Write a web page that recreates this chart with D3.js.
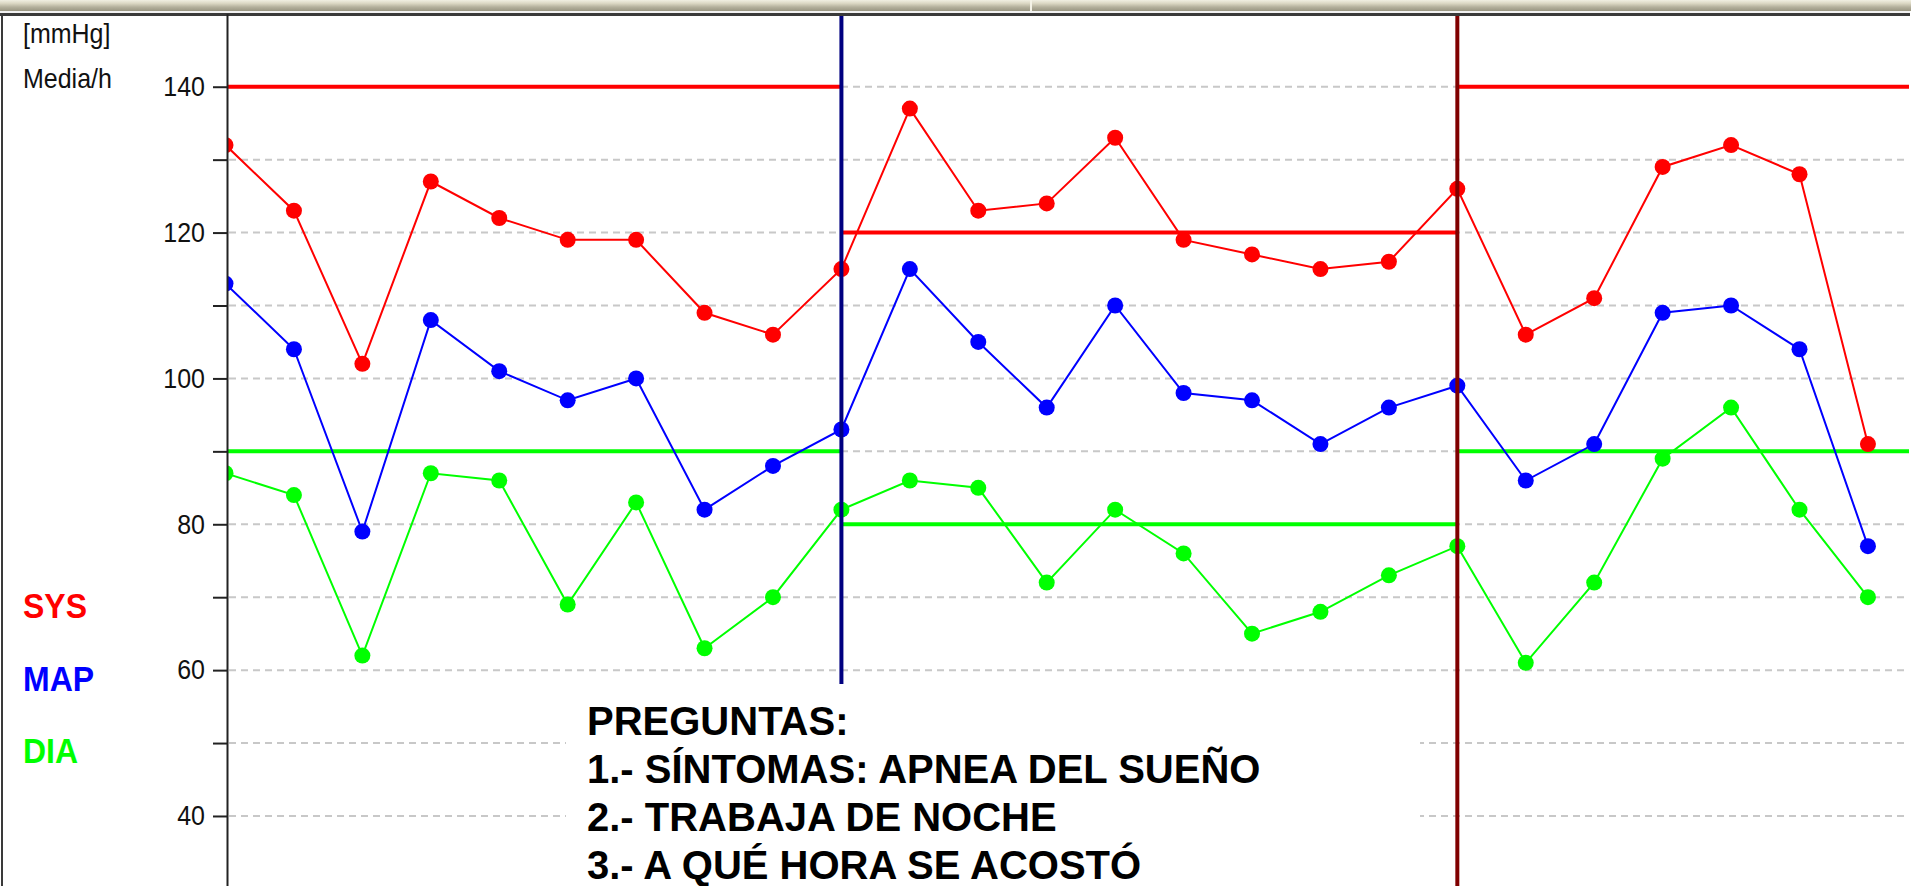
<!DOCTYPE html>
<html>
<head>
<meta charset="utf-8">
<script src="https://cdnjs.cloudflare.com/ajax/libs/d3/7.8.5/d3.min.js"></script>
<style>
body { margin: 0; background: #fff; overflow: hidden; }
text { font-family: "Liberation Sans", Arial, sans-serif; }
.tall { transform-box: fill-box; transform-origin: center; transform: scaleY(1.1); }
</style>
</head>
<body>
<script>
// hourly means (one reading per hour)
var hours = [0, 1, 2, 3, 4, 5, 6, 7, 8, 9, 10, 11, 12, 13, 14, 15, 16, 17, 18, 19, 20, 21, 22, 23, 24];
var sys = [132, 123, 102, 127, 122, 119, 119, 109, 106, 115, 137, 123, 124, 133, 119, 117, 115, 116, 126, 106, 111, 129, 132, 128, 91];
var map = [113, 104, 79, 108, 101, 97, 100, 82, 88, 93, 115, 105, 96, 110, 98, 97, 91, 96, 99, 86, 91, 109, 110, 104, 77];
var dia = [87, 84, 62, 87, 86, 69, 83, 63, 70, 82, 86, 85, 72, 82, 76, 65, 68, 73, 77, 61, 72, 89, 96, 82, 70];

// day / night / day periods and their limits
var periodStart = [0, 9, 18];
var periodEnd = [9, 18, 24.6];
var sysLimit = [140, 120, 140];
var diaLimit = [90, 80, 90];
var dividers = [9, 18];

var yTicks = [40, 50, 60, 70, 80, 90, 100, 110, 120, 130, 140];
var legend = ["SYS", "MAP", "DIA"];
var unitLines = ["[mmHg]", "Media/h"];
var questions = ["PREGUNTAS:", "1.- SÍNTOMAS: APNEA DEL SUEÑO", "2.- TRABAJA DE NOCHE", "3.- A QUÉ HORA SE ACOSTÓ"];

var W = 1911, H = 886;
var margin = {top: 16, left: 227, right: 1909};

var x = d3.scaleLinear().domain([0, 24.6]).range([225.5, 1909]);
var y = d3.scaleLinear().domain([30, 150]).range([888.9, 13.8]);

var svg = d3.select("body").append("svg")
    .attr("width", W)
    .attr("height", H);

var defs = svg.append("defs");
var grad = defs.append("linearGradient")
    .attr("id", "band")
    .attr("x1", 0).attr("y1", 0).attr("x2", 0).attr("y2", 1);
grad.append("stop").attr("offset", "0%").attr("stop-color", "#f1efe2");
grad.append("stop").attr("offset", "30%").attr("stop-color", "#dcd8c4");
grad.append("stop").attr("offset", "65%").attr("stop-color", "#b3af9b");
grad.append("stop").attr("offset", "100%").attr("stop-color", "#9a9682");

defs.append("clipPath").attr("id", "plot")
  .append("rect")
    .attr("x", margin.left)
    .attr("y", margin.top)
    .attr("width", margin.right - margin.left)
    .attr("height", H - margin.top);

// window band at the top
svg.append("rect").attr("x", 0).attr("y", 0).attr("width", W).attr("height", 11).attr("fill", "url(#band)");
svg.append("rect").attr("x", 1030).attr("y", 0).attr("width", 2).attr("height", 11).attr("fill", "#f4f2e6");
svg.append("rect").attr("x", 0).attr("y", 11).attr("width", 1910).attr("height", 2).attr("fill", "#f2f2f2");
svg.append("rect").attr("x", 0).attr("y", 13).attr("width", 1910).attr("height", 3).attr("fill", "#3a3a3a");
svg.append("rect").attr("x", 1).attr("y", 13).attr("width", 2).attr("height", H).attr("fill", "#3a3a3a");

// grid
svg.append("g").selectAll("line")
    .data(yTicks)
  .enter().append("line")
    .attr("x1", margin.left + 2)
    .attr("x2", margin.right)
    .attr("y1", function(d) { return y(d); })
    .attr("y2", function(d) { return y(d); })
    .attr("stroke", "#c8c8c8")
    .attr("stroke-width", 2)
    .attr("stroke-dasharray", "7,5");

var plot = svg.append("g").attr("clip-path", "url(#plot)");

// limits per period
var idx = [0, 1, 2];
plot.append("g").selectAll("line")
    .data(idx)
  .enter().append("line")
    .attr("x1", function(i) { return x(periodStart[i]); })
    .attr("x2", function(i) { return x(periodEnd[i]); })
    .attr("y1", function(i) { return y(sysLimit[i]); })
    .attr("y2", function(i) { return y(sysLimit[i]); })
    .attr("stroke", "#ff0000")
    .attr("stroke-width", 4);

plot.append("g").selectAll("line")
    .data(idx)
  .enter().append("line")
    .attr("x1", function(i) { return x(periodStart[i]); })
    .attr("x2", function(i) { return x(periodEnd[i]); })
    .attr("y1", function(i) { return y(diaLimit[i]); })
    .attr("y2", function(i) { return y(diaLimit[i]); })
    .attr("stroke", "#00ff00")
    .attr("stroke-width", 4);

// series
var series = [
  {values: sys, color: "#ff0000"},
  {values: map, color: "#0000ff"},
  {values: dia, color: "#00ff00"}
];

var line = d3.line()
    .x(function(d, i) { return x(hours[i]); })
    .y(function(d) { return y(d); });

series.forEach(function(s) {
  plot.append("path")
      .attr("d", line(s.values))
      .attr("fill", "none")
      .attr("stroke", s.color)
      .attr("stroke-width", 2);

  plot.append("g").selectAll("circle")
      .data(s.values)
    .enter().append("circle")
      .attr("cx", function(d, i) { return x(hours[i]); })
      .attr("cy", function(d) { return y(d); })
      .attr("r", 8)
      .attr("fill", s.color);
});

// night start / wake up
var dividerColors = ["#000080", "#800000"];
plot.append("g").selectAll("line")
    .data(dividers)
  .enter().append("line")
    .attr("x1", function(d) { return x(d); })
    .attr("x2", function(d) { return x(d); })
    .attr("y1", margin.top)
    .attr("y2", H)
    .attr("stroke", function(d, i) { return dividerColors[i]; })
    .attr("stroke-width", 4);

// axis
var yAxis = d3.axisLeft(y)
    .tickValues(yTicks)
    .tickSize(14)
    .tickSizeOuter(0)
    .tickPadding(8)
    .tickFormat(function(d) { return d % 20 === 0 ? d : ""; });

var ax = svg.append("g")
    .attr("transform", "translate(" + margin.left + ",0)")
    .call(yAxis);
ax.select(".domain").attr("stroke", "#222").attr("stroke-width", 2);
ax.selectAll(".tick line").attr("stroke", "#222").attr("stroke-width", 2);
ax.selectAll(".tick text")
    .attr("class", "tall")
    .style("font-size", "25px")
    .style("font-family", "'Liberation Sans', Arial, sans-serif")
    .attr("fill", "#111");

// unit + legend on the left
svg.append("g").selectAll("text")
    .data(unitLines)
  .enter().append("text")
    .attr("class", "tall")
    .attr("x", 23)
    .attr("y", function(d, i) { return 42 + i * 45; })
    .style("font-size", "25px")
    .attr("fill", "#111")
    .text(function(d) { return d; });

var legendColors = ["#ff0000", "#0000ff", "#00ff00"];
svg.append("g").selectAll("text")
    .data(legend)
  .enter().append("text")
    .attr("class", "tall")
    .attr("x", 23)
    .attr("y", function(d, i) { return 617 + i * 72.5; })
    .style("font-size", "32px")
    .style("font-weight", "bold")
    .attr("fill", function(d, i) { return legendColors[i]; })
    .text(function(d) { return d; });

// questions box
svg.append("rect")
    .attr("x", 566)
    .attr("y", 684)
    .attr("width", 854)
    .attr("height", H - 684)
    .attr("fill", "#fff");

svg.append("g").selectAll("text")
    .data(questions)
  .enter().append("text")
    .attr("x", 587)
    .attr("y", function(d, i) { return 735 + i * 48; })
    .style("font-size", "40px")
    .style("font-weight", "bold")
    .attr("fill", "#000")
    .text(function(d) { return d; });
</script>
</body>
</html>
